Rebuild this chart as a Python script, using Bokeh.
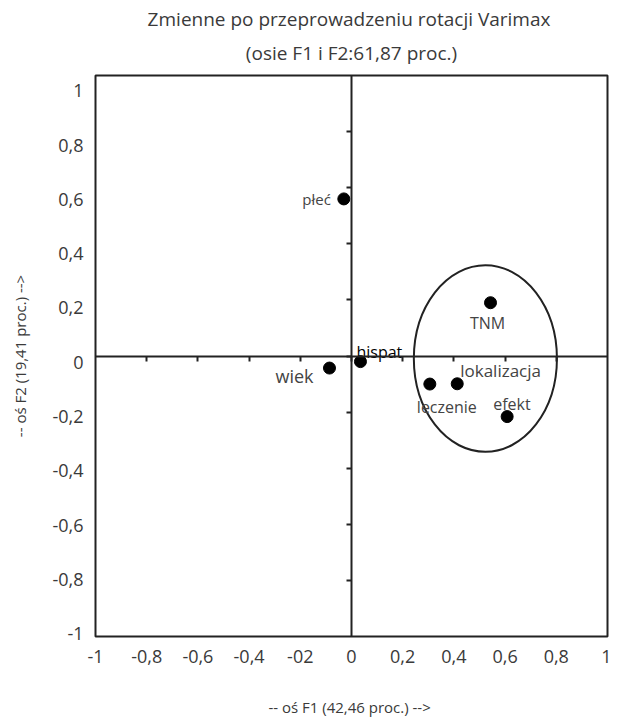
from bokeh.plotting import figure
from bokeh.models import (Range1d, LinearAxis, FixedTicker, ColumnDataSource, Title)
from bokeh.core.properties import value
from bokeh.embed import file_html
from bokeh.resources import INLINE

# ---- data ----
names = ["płeć", "hispat", "wiek", "TNM", "lokalizacja", "leczenie", "efekt"]
f1 = [-0.03, 0.035, -0.086, 0.543, 0.413, 0.306, 0.608]
f2 = [0.56, -0.02, -0.043, 0.19, -0.099, -0.10, -0.216]

tick_values = [-1, -0.8, -0.6, -0.4, -0.2, 0, 0.2, 0.4, 0.6, 0.8, 1]
x_tick_labels = ["-1", "-0,8", "-0,6", "-0,4", "-02", "0", "0,2", "0,4", "0,6", "0,8", "1"]
y_tick_labels = ["-1", "-0,8", "-0,6", "-0,4", "-0,2", "0", "0,2", "0,4", "0,6", "0,8", "1"]
inner_ticks = [-0.8, -0.6, -0.4, -0.2, 0, 0.2, 0.4, 0.6, 0.8]

ellipse_center = (0.523, -0.009)
ellipse_size = (0.559, 0.665)

title_lines = ["Zmienne po  przeprowadzeniu rotacji Varimax", "(osie F1 i F2:61,87 proc.)"]
x_title = "-- oś F1 (42,46  proc.) -->"
y_title = "-- oś F2 (19,41 proc.) -->"

# label styling (screen offsets, alignment)
label_dx = [-13, -4, -16, -3, 3, -13, -14]
label_dy = [0, -10, 8, 20, -13, 23, -13]
label_align = ["right", "left", "right", "center", "left", "left", "left"]
label_baseline = ["middle", "alphabetic", "middle", "middle", "middle", "middle", "middle"]
label_color = ["#444444", "#000000", "#444444", "#444444", "#444444", "#444444", "#444444"]
label_size = ["15px", "16px", "18px", "16px", "17px", "16px", "16px"]

FONT = "Open Sans"
TXT = "#3a3a3a"

p = figure(frame_width=512, frame_height=561, output_backend="svg", toolbar_location=None,
           x_range=Range1d(-1, 1), y_range=Range1d(-1, 1),
           x_axis_location=None, y_axis_location=None, title=None,
           min_border_left=95, min_border_right=4, min_border_top=75, min_border_bottom=72)
p.extra_y_ranges = {"lab": Range1d(-1.011, 1.057)}
p.grid.visible = False
p.outline_line_color = "#222222"
p.outline_line_width = 2
p.background_fill_color = "white"
p.border_fill_color = "white"

# two title lines: the second is added first (closest to the frame)
for line, stand in ((title_lines[1], 20), (title_lines[0], -8)):
    t = Title(text=line, align="center", text_font=FONT, text_font_style="normal",
              text_font_size="19px", text_color=TXT, standoff=stand)
    p.add_layout(t, "above")

# outer axes (labels only)
xa = LinearAxis(ticker=FixedTicker(ticks=tick_values),
                major_label_overrides={v: s for v, s in zip(tick_values, x_tick_labels)})
xa.axis_line_color = None
xa.major_tick_line_color = None
xa.major_tick_out = 0
xa.major_tick_in = 0
xa.minor_tick_line_color = None
xa.minor_tick_out = 0
xa.major_label_standoff = 13
xa.major_label_text_font = FONT
xa.major_label_text_font_size = "18px"
xa.major_label_text_color = TXT
xa.axis_label = x_title
xa.axis_label_text_font = FONT
xa.axis_label_text_font_style = "normal"
xa.axis_label_text_font_size = "15px"
xa.axis_label_text_color = TXT
xa.axis_label_standoff = 31
p.add_layout(xa, "below")

ya = LinearAxis(y_range_name="lab", ticker=FixedTicker(ticks=tick_values),
                major_label_overrides={v: s for v, s in zip(tick_values, y_tick_labels)})
ya.axis_line_color = None
ya.major_tick_line_color = None
ya.major_tick_out = 0
ya.major_tick_in = 0
ya.minor_tick_line_color = None
ya.minor_tick_out = 0
ya.major_label_standoff = 12
ya.major_label_text_font = FONT
ya.major_label_text_font_size = "18px"
ya.major_label_text_color = TXT
ya.axis_label = y_title
ya.axis_label_text_font = FONT
ya.axis_label_text_font_style = "normal"
ya.axis_label_text_font_size = "15px"
ya.axis_label_text_color = TXT
ya.axis_label_standoff = 19
p.add_layout(ya, "left")

# center cross lines with ticks
cx = LinearAxis(fixed_location=0, ticker=FixedTicker(ticks=inner_ticks))
cx.axis_line_width = 2
cx.axis_line_color = "#222222"
cx.major_tick_line_width = 2
cx.major_tick_line_color = "#222222"
cx.major_tick_out = 5
cx.major_tick_in = 0
cx.minor_tick_line_color = None
cx.major_label_text_font_size = "0px"
cx.major_label_text_alpha = 0
p.add_layout(cx, "below")

cy = LinearAxis(fixed_location=0, ticker=FixedTicker(ticks=inner_ticks))
cy.axis_line_width = 2
cy.axis_line_color = "#222222"
cy.major_tick_line_width = 2
cy.major_tick_line_color = "#222222"
cy.major_tick_out = 5
cy.major_tick_in = 0
cy.minor_tick_line_color = None
cy.major_label_text_font_size = "0px"
cy.major_label_text_alpha = 0
p.add_layout(cy, "left")

# ellipse
p.ellipse(x=[ellipse_center[0]], y=[ellipse_center[1]], width=[ellipse_size[0]], height=[ellipse_size[1]],
          fill_color=None, line_color="#222222", line_width=2)

src = ColumnDataSource(dict(x=f1, y=f2, name=names, dx=label_dx, dy=label_dy,
                            align=label_align, base=label_baseline, color=label_color, size=label_size))
p.scatter("x", "y", source=src, size=12, color="black")
p.text("x", "y", text="name", source=src, x_offset="dx", y_offset="dy",
       text_align="align", text_baseline="base", text_color="color",
       text_font_size="size", text_font=value(FONT))

open("out.html", "w").write(file_html(p, INLINE))
